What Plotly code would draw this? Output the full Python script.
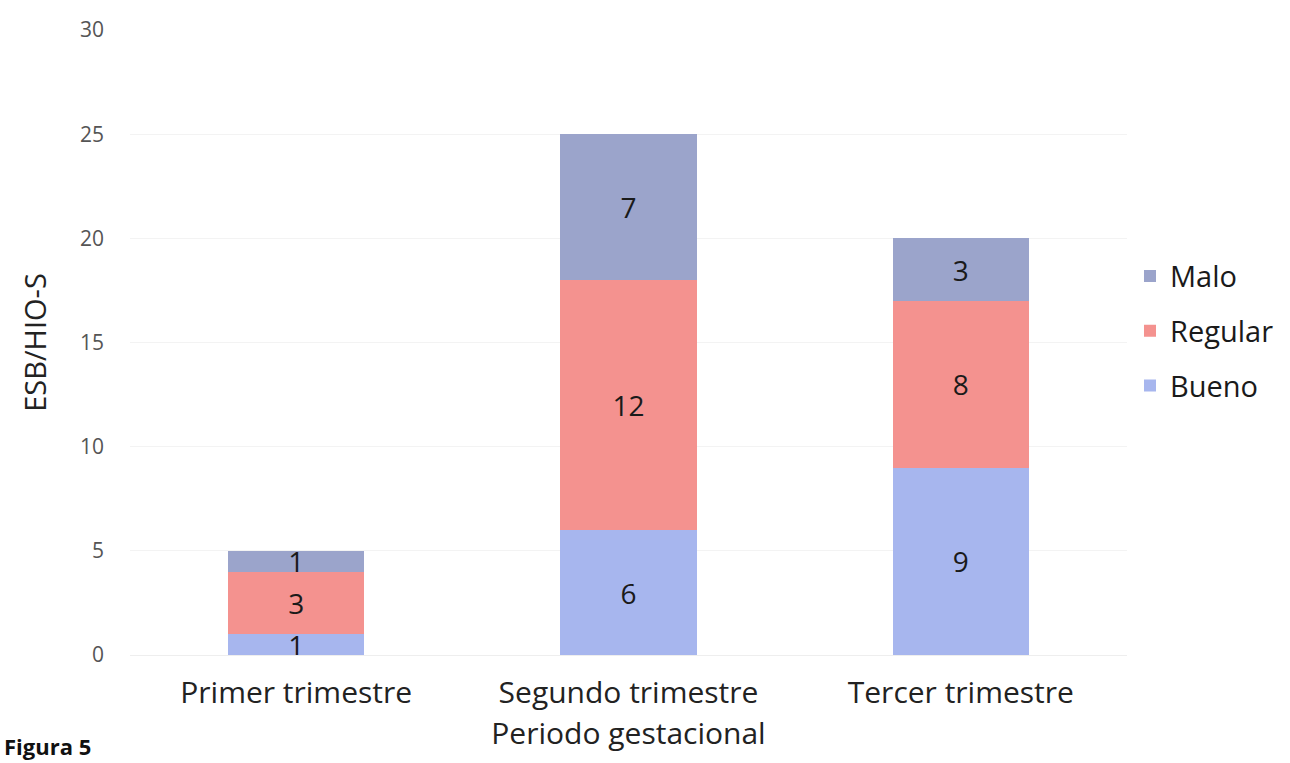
import plotly.graph_objects as go

categories = ["Primer trimestre", "Segundo trimestre", "Tercer trimestre"]
bueno = [1, 6, 9]
regular = [3, 12, 8]
malo = [1, 7, 3]
series_names = ["Bueno", "Regular", "Malo"]
colors = ["#a7b6ee", "#f4928f", "#9ba4cb"]
legend_ranks = [3, 2, 1]
y_ticks = [0, 5, 10, 15, 20, 25, 30]

fig = go.Figure()
for name, vals, col, rank in zip(series_names, [bueno, regular, malo], colors, legend_ranks):
    fig.add_trace(go.Bar(
        x=categories, y=vals, name=name, legendgroup=name, legendrank=rank,
        marker=dict(color=col, line=dict(width=0)),
        text=[str(v) for v in vals], textposition="inside",
        insidetextanchor="middle", textangle=0, constraintext="none",
        textfont=dict(size=28, color="#1a1a1a", family="Open Sans"),
        width=0.41, cliponaxis=False,
    ))

fig.update_layout(
    barmode="stack",
    width=1290, height=763,
    margin=dict(l=130, r=162, t=30, b=108),
    paper_bgcolor="white", plot_bgcolor="white",
    font=dict(family="Open Sans", color="#222"),
    legend=dict(
        traceorder="grouped",
        x=1.002, xanchor="left", y=0.518, yanchor="middle",
        font=dict(size=29, color="#1a1a1a"),
        itemsizing="constant",
        tracegroupgap=14,
    ),
    annotations=[dict(
        text="<b>Figura 5</b>", xref="paper", yref="paper",
        x=-0.128, y=-0.172, xanchor="left", yanchor="bottom",
        showarrow=False, font=dict(size=22, color="#111"),
    )],
)
fig.update_xaxes(
    title=dict(text="Periodo gestacional", font=dict(size=30, color="#222"), standoff=2),
    tickfont=dict(size=30, color="#222"),
    showline=True, linecolor="#eeeeee", ticks="",
    ticklabelstandoff=11,
)
fig.update_yaxes(
    title=dict(text="ESB/HIO-S", font=dict(size=29, color="#222"), standoff=24),
    range=[0, 30], tickvals=y_ticks,
    tickfont=dict(size=21, color="#555"),
    showgrid=True, gridcolor="#f3f3f3", zeroline=False,
    ticklabelstandoff=25,
)

fig.write_html("out.html")
